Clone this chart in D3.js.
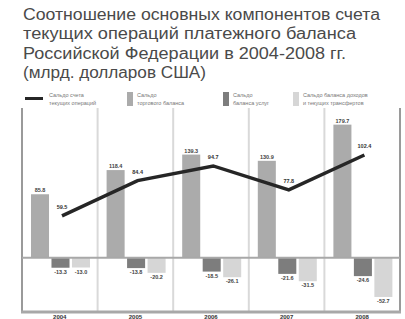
<!DOCTYPE html>
<html>
<head>
<meta charset="utf-8">
<script src="https://cdn.jsdelivr.net/npm/d3@7"></script>
<style>
  body { margin: 0; background: #fff; }
  svg { display: block; font-family: "Liberation Sans", Arial, sans-serif; }
</style>
</head>
<body>
<svg id="chart" width="405" height="319"></svg>
<script>
// данные, млрд долл. США
var years = ["2004", "2005", "2006", "2007", "2008"]
var trade = [85.8, 118.4, 139.3, 130.9, 179.7]
var services = [-13.3, -13.8, -18.5, -21.6, -24.6]
var incomeTransfers = [-13.0, -20.2, -26.1, -31.5, -52.7]
var currentAccount = [59.5, 84.4, 94.7, 77.8, 102.4]

var titleLines = ["Соотношение основных компонентов счета",
  "текущих операций платежного баланса",
  "Российской Федерации в 2004-2008 гг.",
  "(млрд. долларов США)"]

var legendItems = [
  {key: "ca", lines: ["Сальдо счета", "текущих операций"]},
  {key: "trade", lines: ["Сальдо", "торгового баланса"]},
  {key: "services", lines: ["Сальдо", "баланса услуг"]},
  {key: "income", lines: ["Сальдо баланса доходов", "и текущих трансфертов"]}
]

var colors = {trade: "#ababab", services: "#7d7d7d", income: "#d6d6d6", ca: "#262626"}

var svg = d3.select("#chart")

// заголовок
svg.append("g").selectAll("text")
  .data(titleLines)
  .enter().append("text")
    .attr("x", 23)
    .attr("y", (d, i) => 20 + i * 19.3)
    .attr("fill", "#4a4a4a")
    .attr("font-size", "16px")
    .attr("textLength", (d, i) => [357, 333, 323, 183][i])
    .attr("lengthAdjust", "spacingAndGlyphs")
    .text(d => d)

// легенда
var legendX = [25, 127, 223, 293]
var legend = svg.append("g")
legendItems.forEach((item, i) => {
  var g = legend.append("g").attr("transform", "translate(" + legendX[i] + ",92)")
  if (item.key == "ca") {
    g.append("rect").attr("x", 0).attr("y", 5).attr("width", 18).attr("height", 3).attr("fill", colors.ca)
  } else {
    g.append("rect").attr("x", 0).attr("y", 0).attr("width", 6).attr("height", 14).attr("fill", colors[item.key])
  }
  g.selectAll("text")
    .data(item.lines)
    .enter().append("text")
      .attr("x", item.key == "ca" ? 24 : 10)
      .attr("y", (d, j) => 5 + j * 8)
      .attr("font-size", "5.5px")
      .attr("fill", "#777")
      .text(d => d)
})

// шкалы
var x0 = d3.scaleBand().domain(years).range([22, 400])
var x1 = d3.scaleBand().domain(["trade", "services", "income"]).range([9, 68]).paddingInner(0.12)
var y = d3.scaleLinear().domain([-73, 190]).range([312, 117])
// линия счета текущих операций нарисована по своей шкале
var yLine = d3.scaleLinear().domain([30, 120]).range([y(0), 130])

var plot = svg.append("g")

// вертикальные разделители
plot.selectAll("line.sep")
  .data(years.slice(1))
  .enter().append("line")
    .attr("class", "sep")
    .attr("x1", d => x0(d)).attr("x2", d => x0(d))
    .attr("y1", 108).attr("y2", 312)
    .attr("stroke", "#d9d9d9").attr("stroke-width", 2)

plot.append("line").attr("x1", 22).attr("x2", 22).attr("y1", 108).attr("y2", 313)
  .attr("stroke", "#9a9a9a").attr("stroke-width", 2)
plot.append("line").attr("x1", 400).attr("x2", 400).attr("y1", 108).attr("y2", 313)
  .attr("stroke", "#9a9a9a").attr("stroke-width", 2)

var series = [
  {key: "trade", values: trade},
  {key: "services", values: services},
  {key: "income", values: incomeTransfers}
]

series.forEach(s => {
  var g = plot.append("g")
  g.selectAll("rect")
    .data(s.values)
    .enter().append("rect")
      .attr("x", (d, i) => x0(years[i]) + x1(s.key))
      .attr("width", x1.bandwidth())
      .attr("y", d => y(Math.max(0, d)))
      .attr("height", d => Math.abs(y(d) - y(0)))
      .attr("fill", colors[s.key])

  g.selectAll("text")
    .data(s.values)
    .enter().append("text")
      .attr("x", (d, i) => x0(years[i]) + x1(s.key) + x1.bandwidth() / 2)
      .attr("y", d => d > 0 ? y(d) - 2 : y(d) + 6)
      .attr("text-anchor", "middle")
      .attr("font-size", "5.5px")
      .attr("font-weight", "bold")
      .attr("fill", "#444")
      .text(d => d3.format(".1f")(d).replace("−", "-"))
})

// нулевая линия и нижняя граница
plot.append("line").attr("x1", 22).attr("x2", 400).attr("y1", y(0)).attr("y2", y(0))
  .attr("stroke", "#a8a8a8").attr("stroke-width", 2)
plot.append("line").attr("x1", 21).attr("x2", 401).attr("y1", 312).attr("y2", 312)
  .attr("stroke", "#a8a8a8").attr("stroke-width", 3)

// линия
var line = d3.line()
  .x((d, i) => x0(years[i]) + 40)
  .y(d => yLine(d))

plot.append("path")
  .datum(currentAccount)
  .attr("fill", "none")
  .attr("stroke", colors.ca)
  .attr("stroke-width", 3.5)
  .attr("d", line)

plot.selectAll("text.ca")
  .data(currentAccount)
  .enter().append("text")
    .attr("class", "ca")
    .attr("x", (d, i) => x0(years[i]) + 40)
    .attr("y", d => yLine(d) - 7)
    .attr("text-anchor", "middle")
    .attr("font-size", "5.5px")
    .attr("font-weight", "bold")
    .attr("fill", "#333")
    .text(d => d3.format(".1f")(d))

// подписи лет
plot.selectAll("text.year")
  .data(years)
  .enter().append("text")
    .attr("class", "year")
    .attr("x", d => x0(d) + x0.bandwidth() / 2)
    .attr("y", 318.5)
    .attr("text-anchor", "middle")
    .attr("font-size", "6px")
    .attr("font-weight", "bold")
    .attr("fill", "#333")
    .text(d => d)
</script>
</body>
</html>
